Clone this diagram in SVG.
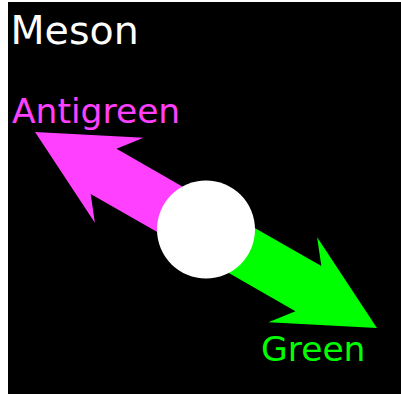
<svg xmlns="http://www.w3.org/2000/svg" width="401" height="394" viewBox="0 0 401 394">
<defs>
<style>
text{font-family:"DejaVu Sans","Liberation Sans",sans-serif}
</style>
<polygon id="arrowShape" points="0,-26 118,-26 100,-49 197,0 100,49 118,26 0,26"/>
</defs>
<rect x="0" y="0" width="401" height="394" fill="#ffffff"/>
<rect x="8" y="2" width="393" height="392" fill="#000000"/>
<g id="connectors">
<use href="#arrowShape" fill="#00ff00" transform="translate(206,230) rotate(29.8)"/>
<use href="#arrowShape" fill="#ff40ff" transform="translate(206,230) rotate(209.8)"/>
</g>
<g id="meson">
<circle cx="206" cy="229.5" r="49" fill="#ffffff"/>
</g>
<g id="title"><text x="10.5" y="44" font-size="39.5" fill="#ffffff">Meson</text></g>
<g id="antigreen"><text x="12" y="123" font-size="34.5" fill="#ff40ff">Antigreen</text></g>
<g id="green"><text x="261" y="361" font-size="34.5" fill="#00ff00">Green</text></g>
</svg>
